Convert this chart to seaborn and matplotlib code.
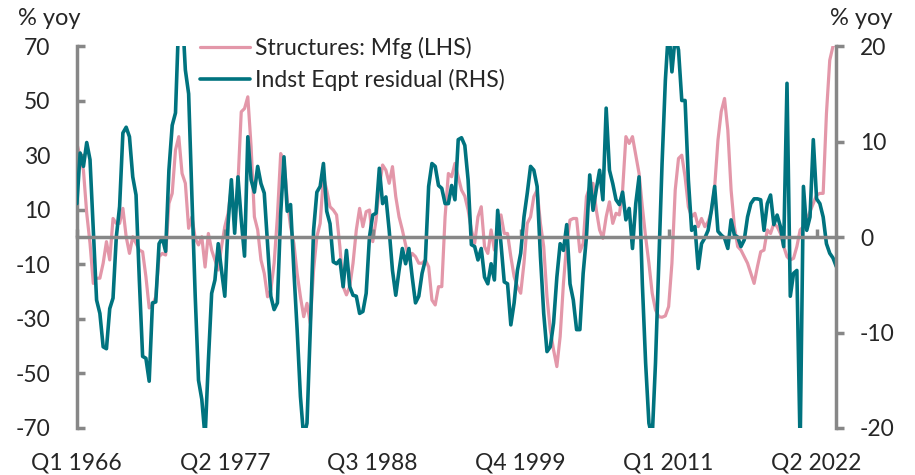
import numpy as np
import pandas as pd
import seaborn as sns
import matplotlib.pyplot as plt

# quarterly axis, Q1 1966 .. Q4 2023
quarters = [f"Q{q} {y}" for y in range(1966, 2024) for q in range(1, 5)]

# Structures: Mfg, % yoy (left axis)
structures_mfg = [
    34.3, 29.4, 24.5, 8.7, -2.3, -17.0, -15.1, -15.1, -9.6, -1.7,
    -8.4, 6.8, 5.0, 5.0, 10.5, 0.1, -6.0, 0.1, -2.3, -4.8,
    -5.4, -14.5, -26.0, -25.0, -21.9, -7.2, -6.0, -6.6, 12.3, 16.0,
    31.9, 36.8, 23.3, 19.7, 3.2, 7.4, -0.5, -2.9, 0.1, -11.0,
    1.3, -4.8, -8.4, -12.1, -3.5, 3.8, 8.7, 18.4, 6.2, 19.7,
    45.9, 47.1, 51.4, 33.1, 7.4, 2.6, -8.4, -13.3, -21.9, -19.4,
    -9.6, 7.4, 30.6, 28.2, 13.6, 3.8, -2.3, -13.3, -21.9, -29.2,
    -24.3, -31.6, -12.1, 0.1, 5.0, 22.1, 17.2, 11.1, 9.9, 8.1,
    -3.5, -18.2, -21.2, -18.2, -9.6, 2.6, 10.5, 3.8, 9.3, 9.9,
    -1.7, 6.2, 18.4, 26.4, 24.5, 19.7, 25.8, 14.8, 7.4, 2.6,
    -2.9, -8.4, -6.0, -7.2, -9.6, -9.6, -8.4, -10.9, -23.1, -24.9,
    -18.2, -18.2, 7.4, 23.3, 22.1, 27.0, 22.1, 17.2, 15.0, 9.9,
    2.6, -2.3, 7.4, 11.1, -3.5, -6.0, 2.6, -4.8, 2.6, 8.1,
    1.3, 1.3, -7.2, -14.5, -18.2, -20.6, -9.6, 5.0, 7.4, 14.8,
    17.2, 5.0, -3.5, -21.9, -34.1, -41.4, -47.5, -36.5, -17.0, -2.3,
    6.2, 6.8, 6.8, -5.4, -2.3, 14.8, 18.4, 19.7, 9.9, 2.6,
    -0.5, 7.4, 12.9, 5.0, 8.7, 8.1, 17.2, 36.8, 34.3, 36.8,
    30.0, 23.3, 11.1, 0.0, -9.6, -20.6, -26.7, -29.2, -29.4, -28.9,
    -25.5, -9.6, 17.2, 28.8, 30.0, 22.1, 11.1, 7.4, 8.7, 3.8,
    6.8, 3.8, 5.6, 9.3, 18.4, 35.5, 46.0, 50.8, 39.2, 17.2,
    3.8, -3.5, -4.8, -7.2, -9.6, -13.3, -17.0, -10.9, -5.4, -4.8,
    2.6, 1.3, 5.0, 3.8, 1.3, -3.5, -7.2, -8.4, -7.8, -3.5,
    2.6, 3.8, 6.2, 9.3, 12.3, 15.4, 16.0, 16.0, 45.3, 64.8,
    70.0, 71.0,
]

# Indst Eqpt residual, % yoy (right axis)
indst_eqpt_resid = [
    3.5, 8.8, 7.4, 9.9, 8.1, 0.7, -6.6, -8.0, -11.5, -11.7,
    -7.5, -6.4, 0.0, 3.2, 10.9, 11.5, 10.5, 6.3, 4.4, -4.5,
    -12.5, -12.7, -15.1, -6.9, -6.8, -0.7, -0.1, -1.5, 7.0, 11.7,
    13.0, 23.0, 24.0, 17.5, 15.0, 4.2, -6.2, -15.0, -17.0, -21.0,
    -13.0, -5.9, -4.5, -0.7, -3.5, -6.2, 1.4, 6.0, 0.4, 6.3,
    1.8, -2.0, 10.5, 6.0, 4.7, 7.4, 5.6, 4.6, -0.7, -6.2,
    -7.6, -6.9, 2.5, 8.4, 2.7, 3.4, -3.5, -9.7, -16.7, -21.0,
    -19.5, -9.7, 0.7, 4.7, 5.3, 7.7, 2.7, 1.4, -2.6, -2.8,
    -2.4, -5.2, -1.4, -5.2, -6.1, -6.2, -8.0, -7.8, -5.9, 0.0,
    2.3, 2.5, 7.2, 3.5, 4.2, 0.7, -3.5, -6.1, -3.5, -1.2,
    -2.8, -1.2, -4.2, -6.9, -6.2, -3.8, -2.4, 5.3, 7.7, 7.4,
    5.4, 5.1, 3.5, 3.5, 5.4, 3.9, 10.2, 10.4, 9.6, 6.0,
    -0.8, -1.0, -2.4, -1.2, -4.2, -4.9, -2.8, -4.5, 2.8, -0.7,
    -4.7, -4.9, -9.2, -6.9, -3.5, -1.7, 2.1, 4.6, 7.4, 7.0,
    5.3, -2.0, -8.0, -12.0, -11.5, -9.0, -4.2, -0.7, -1.4, 1.3,
    -4.9, -6.6, -9.7, -9.7, -3.8, 0.0, 6.5, 2.8, 5.0, 7.0,
    3.9, 13.5, 7.0, 5.6, 3.9, 3.4, 4.7, 1.8, 3.0, -1.2,
    3.5, 6.3, -4.9, -13.2, -19.5, -21.0, -13.2, -2.8, 7.7, 16.4,
    22.0, 17.3, 21.0, 19.6, 14.3, 14.3, 6.0, 0.7, 1.1, -3.3,
    -0.7, -0.1, 0.7, 2.8, 5.3, 0.6, 0.2, -0.1, -1.2, 1.8,
    0.2, 0.0, -1.0, -0.3, 2.1, 3.5, 4.0, 4.0, 3.9, 0.7,
    3.5, 4.4, 1.3, 2.3, 1.1, -1.0, 16.1, -6.2, -3.8, -3.5,
    -22.0, 5.3, 0.7, 2.1, 10.2, 4.0, 3.5, 2.1, -0.7, -1.7,
    -2.2, -3.1,
]

lhs_ticks = [-70, -50, -30, -10, 10, 30, 50, 70]
rhs_ticks = [-20, -10, 0, 10, 20]
label_step = 45

df = pd.DataFrame({
    't': np.arange(len(quarters)),
    'quarter': quarters,
    'mfg': structures_mfg,
    'eqpt': indst_eqpt_resid,
})

PINK = '#E397A9'
TEAL = '#00737F'
GRAY = '#878787'
FS = 16.5

sns.set_style('white')
plt.rcParams['font.family'] = ['Lato', 'DejaVu Sans']
plt.rcParams['axes.unicode_minus'] = False

fig = plt.figure(figsize=(9.15, 4.75), dpi=100)
ax = fig.add_axes([0.084, 0.099, 0.83, 0.804])
ax2 = ax.twinx()

sns.lineplot(data=df, x='t', y='mfg', ax=ax, color=PINK, linewidth=2.3,
             label='Structures: Mfg (LHS)')
sns.lineplot(data=df, x='t', y='eqpt', ax=ax2, color=TEAL, linewidth=2.6,
             label='Indst Eqpt residual (RHS)')

ax.set_xlim(0, len(quarters) - 1)
ax.set_ylim(-70, 70)
ax2.set_ylim(-20, 20)
ax.set_yticks(lhs_ticks)
ax2.set_yticks(rhs_ticks)
tick_idx = list(range(0, len(quarters), label_step))
ax.set_xticks(tick_idx)
ax.set_xticklabels([quarters[i] for i in tick_idx])
for a in (ax, ax2):
    a.set_xlabel('')
    a.set_ylabel('')
    a.spines['top'].set_visible(False)

ax.spines['bottom'].set_visible(False)
ax.spines['right'].set_visible(False)
ax2.spines['left'].set_visible(False)
ax.spines['left'].set_color(GRAY)
ax.spines['left'].set_linewidth(2.5)
ax2.spines['right'].set_color(GRAY)
ax2.spines['right'].set_linewidth(2.5)

# zero line with small upward tick marks
ax2.xaxis.set_visible(True)
ax2.spines['bottom'].set_visible(True)
ax2.spines['bottom'].set_position(('data', 0))
ax2.spines['bottom'].set_color(GRAY)
ax2.spines['bottom'].set_linewidth(2.5)
ax2.tick_params(axis='x', direction='in', length=6, width=2.5, color=GRAY,
                labelbottom=False, bottom=True)

ax.tick_params(axis='y', direction='in', length=6, width=2.5, color=GRAY,
               labelsize=FS, pad=19, left=True)
ax2.tick_params(axis='y', direction='out', length=6, width=2.5, color=GRAY,
                labelsize=FS, pad=11, right=True)
ax.tick_params(axis='x', length=0, labelsize=FS, pad=18)

fig.text(0.02, 0.962, '% yoy', ha='left', va='center', fontsize=FS + 0.5)
fig.text(0.975, 0.962, '% yoy', ha='right', va='center', fontsize=FS + 0.5)

h1, l1 = ax.get_legend_handles_labels()
h2, l2 = ax2.get_legend_handles_labels()
ax.get_legend().remove()
ax2.get_legend().remove()
ax2.legend(h1 + h2, l1 + l2, loc='upper left', bbox_to_anchor=(0.162, 1.025),
           frameon=False, fontsize=FS, handlelength=2.2, handletextpad=0.2,
           labelspacing=0.45, borderaxespad=0, borderpad=0)

fig.savefig('out.png', dpi=100)
